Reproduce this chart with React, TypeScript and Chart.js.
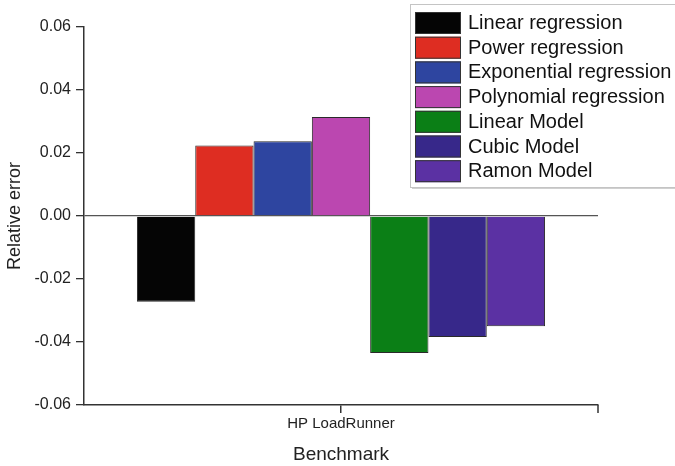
import React, { useEffect, useRef } from "react";
import { Chart, registerables } from "chart.js";

Chart.register(...registerables);

const categories = ["HP LoadRunner"];
const seriesNames = [
  "Linear regression",
  "Power regression",
  "Exponential regression",
  "Polynomial regression",
  "Linear Model",
  "Cubic Model",
  "Ramon Model",
];
const linearRegression = [-0.0272];
const powerRegression = [0.0224];
const exponentialRegression = [0.0237];
const polynomialRegression = [0.0314];
const linearModel = [-0.0435];
const cubicModel = [-0.0384];
const ramonModel = [-0.035];
const seriesColors = ["#050505", "#de2d22", "#2e45a0", "#bb47b0", "#0b7f16", "#37288a", "#5b31a3"];
const yTicks = [-0.06, -0.04, -0.02, 0, 0.02, 0.04, 0.06];

const FONT = "'Liberation Sans', Arial, sans-serif";

const legendPlugin = {
  id: "boxLegend",
  afterDraw(chart: any) {
    const ctx = chart.ctx;
    const x0 = 410, y0 = 4, w = 268, h = 183;
    ctx.save();
    ctx.fillStyle = "#d0d0d0";
    ctx.fillRect(x0 + 2, y0 + 2, w, h);
    ctx.fillStyle = "#ffffff";
    ctx.fillRect(x0, y0, w, h);
    ctx.strokeStyle = "#c4c4c4";
    ctx.lineWidth = 1;
    ctx.strokeRect(x0 + 0.5, y0 + 0.5, w, h);
    ctx.font = `20px ${FONT}`;
    ctx.textBaseline = "middle";
    chart.data.datasets.forEach((ds: any, i: number) => {
      const top = 12 + i * 24.7;
      ctx.fillStyle = ds.backgroundColor;
      ctx.fillRect(415, top, 46, 22);
      ctx.strokeStyle = "#333";
      ctx.strokeRect(415.5, top + 0.5, 45, 21);
      ctx.fillStyle = "#111";
      ctx.fillText(ds.label, 468, top + 11.5);
    });
    ctx.restore();
  },
};

const endTickPlugin = {
  id: "endTick",
  afterDraw(chart: any) {
    const { ctx, chartArea } = chart;
    ctx.save();
    ctx.strokeStyle = "#333";
    ctx.lineWidth = 1.5;
    ctx.beginPath();
    ctx.moveTo(chartArea.right, chartArea.bottom);
    ctx.lineTo(chartArea.right, chartArea.bottom + 8);
    ctx.stroke();
    ctx.restore();
  },
};

export default function App() {
  const ref = useRef<HTMLCanvasElement>(null);
  useEffect(() => {
    document.body.style.margin = "0";
    const values = [
      linearRegression,
      powerRegression,
      exponentialRegression,
      polynomialRegression,
      linearModel,
      cubicModel,
      ramonModel,
    ];
    const chart = new Chart(ref.current!, {
      type: "bar",
      data: {
        labels: categories,
        datasets: seriesNames.map((name, i) => ({
          label: name,
          data: values[i],
          backgroundColor: seriesColors[i],
          borderColor: "#2a2a2a",
          borderWidth: 1,
          categoryPercentage: 0.794,
          barPercentage: 1,
        })),
      },
      options: {
        animation: false,
        responsive: false,
        devicePixelRatio: 1,
        layout: { padding: { top: 27, right: 77, left: 0, bottom: 0 } },
        plugins: { legend: { display: false }, tooltip: { enabled: false } },
        scales: {
          x: {
            afterFit: (s: any) => {
              s.height = 61;
            },
            grid: {
              offset: false,
              drawOnChartArea: false,
              color: "#333",
              tickLength: 8,
              lineWidth: 1.5,
            },
            border: { color: "#333", width: 1.5 },
            ticks: { color: "#222", font: { family: FONT, size: 15 }, padding: 2 },
            title: {
              display: true,
              text: "Benchmark",
              color: "#222",
              font: { family: FONT, size: 19 },
              padding: { top: 0, bottom: 0 },
            },
          },
          y: {
            min: yTicks[0],
            max: yTicks[yTicks.length - 1],
            afterFit: (s: any) => {
              s.width = 84;
            },
            afterBuildTicks: (s: any) => {
              s.ticks = yTicks.map((v) => ({ value: v }));
            },
            grid: {
              drawOnChartArea: true,
              color: (c: any) => (c.tick && Math.abs(c.tick.value) < 1e-9 ? "#555" : "rgba(0,0,0,0)"),
              tickColor: "#333",
              tickLength: 8,
              lineWidth: 1.3,
            },
            border: { color: "#333", width: 1.5 },
            ticks: {
              color: "#222",
              font: { family: FONT, size: 16 },
              padding: 5,
              callback: (v: any) => Number(v).toFixed(2),
            },
            title: {
              display: true,
              text: "Relative error",
              color: "#222",
              font: { family: FONT, size: 18 },
              padding: { top: 4, bottom: 0 },
            },
          },
        },
      },
      plugins: [legendPlugin, endTickPlugin],
    });
    return () => chart.destroy();
  }, []);
  return (
    <div style={{ width: 675, height: 466, background: "#fff" }}>
      <canvas ref={ref} width={675} height={466} style={{ width: 675, height: 466, display: "block" }} />
    </div>
  );
}
